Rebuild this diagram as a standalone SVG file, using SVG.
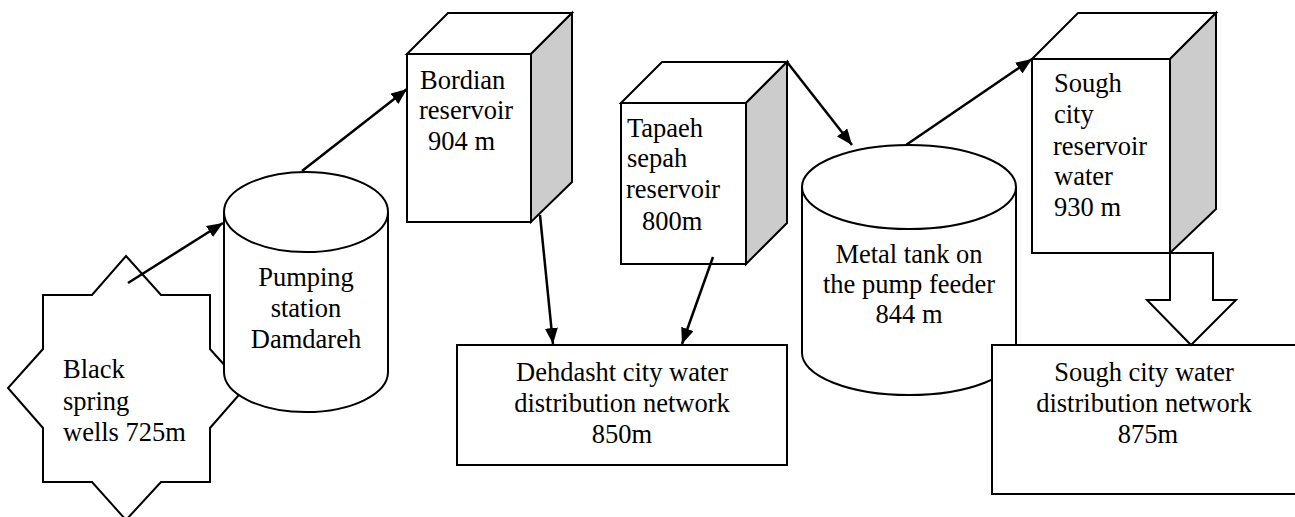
<svg xmlns="http://www.w3.org/2000/svg" width="1295" height="517" viewBox="0 0 1295 517">
<style>
.s{fill:#fff;stroke:#000;stroke-width:2;stroke-linejoin:miter}
.side{fill:#ccc;stroke:#000;stroke-width:2}
text{font-family:'Liberation Serif','Times New Roman','DejaVu Serif',serif;font-size:26.5px;fill:#000}
.c{text-anchor:middle}
.ln{stroke:#000;stroke-width:2.5;fill:none}
</style>
<defs>
<marker id="ah" markerUnits="userSpaceOnUse" markerWidth="18" markerHeight="14" refX="16" refY="6.5" orient="auto">
<path d="M0,0 L16,6.5 L0,13 z" fill="#000"/>
</marker>
</defs>
<g id="black-spring">
<polygon class="s" points="126,256 161,295 210,295 210,349 245,388 210,428 210,482 161,482 126,520 92,482 43,482 43,428 8,388 43,349 43,295 92,295"/>
<text x="63" y="378">Black</text>
<text x="63" y="410">spring</text>
<text x="63" y="441">wells 725m</text>
</g>
<g id="pumping-station">
<path class="s" d="M224,212 L224,372 A82,40 0 0 0 388,372 L388,212"/>
<ellipse class="s" cx="306" cy="212" rx="82" ry="40"/>
<text class="c" x="306" y="286">Pumping</text>
<text class="c" x="306" y="317">station</text>
<text class="c" x="306" y="348">Damdareh</text>
</g>
<g id="bordian">
<polygon class="s" points="407,54 448,13 572,13 531,54"/>
<polygon class="side" points="531,54 572,13 572,182 531,222"/>
<rect class="s" x="407" y="54" width="124" height="168"/>
<text x="420" y="89">Bordian</text>
<text x="419" y="119">reservoir</text>
<text x="428" y="150">904 m</text>
</g>
<g id="tapaeh">
<polygon class="s" points="621,103 662,62 787,62 746,103"/>
<polygon class="side" points="746,103 787,62 787,223 746,264"/>
<rect class="s" x="621" y="103" width="125" height="161"/>
<text x="627" y="137">Tapaeh</text>
<text x="627" y="167">sepah</text>
<text x="626" y="198">reservoir</text>
<text x="642" y="230">800m</text>
</g>
<g id="dehdasht">
<rect class="s" x="457" y="345" width="330" height="120"/>
<text class="c" x="622" y="381">Dehdasht city water</text>
<text class="c" x="622" y="412">distribution network</text>
<text class="c" x="622" y="443">850m</text>
</g>
<g id="metal-tank">
<path class="s" d="M802,187 L802,353 A107,42 0 0 0 1016,353 L1016,187"/>
<ellipse class="s" cx="909" cy="187" rx="107" ry="42"/>
<text class="c" x="909" y="263">Metal tank on</text>
<text class="c" x="909" y="293">the pump feeder</text>
<text class="c" x="909" y="323">844 m</text>
</g>
<g id="sough-reservoir">
<polygon class="s" points="1032,59 1078,13 1216,13 1170,59"/>
<polygon class="side" points="1170,59 1216,13 1216,209 1170,253"/>
<rect class="s" x="1032" y="59" width="138" height="194"/>
<text x="1054" y="92">Sough</text>
<text x="1054" y="123">city</text>
<text x="1053" y="155">reservoir</text>
<text x="1054" y="185">water</text>
<text x="1054" y="216">930 m</text>
</g>
<g id="sough-network">
<rect class="s" x="992" y="345" width="308" height="149"/>
<text class="c" x="1144" y="381">Sough city water</text>
<text class="c" x="1144" y="412">distribution network</text>
<text class="c" x="1148" y="443">875m</text>
</g>
<g id="connectors">
<polygon class="s" points="1170,253 1213,253 1213,300 1236,300 1191,345 1147,300 1170,300"/>
<line class="ln" x1="128" y1="283" x2="223" y2="223" marker-end="url(#ah)"/>
<line class="ln" x1="302" y1="171" x2="407" y2="89" marker-end="url(#ah)"/>
<line class="ln" x1="540" y1="215" x2="553" y2="344" marker-end="url(#ah)"/>
<line class="ln" x1="713" y1="257" x2="682" y2="344" marker-end="url(#ah)"/>
<line class="ln" x1="787" y1="62" x2="852" y2="145" marker-end="url(#ah)"/>
<line class="ln" x1="906" y1="145" x2="1032" y2="59" marker-end="url(#ah)"/>
</g>
</svg>
